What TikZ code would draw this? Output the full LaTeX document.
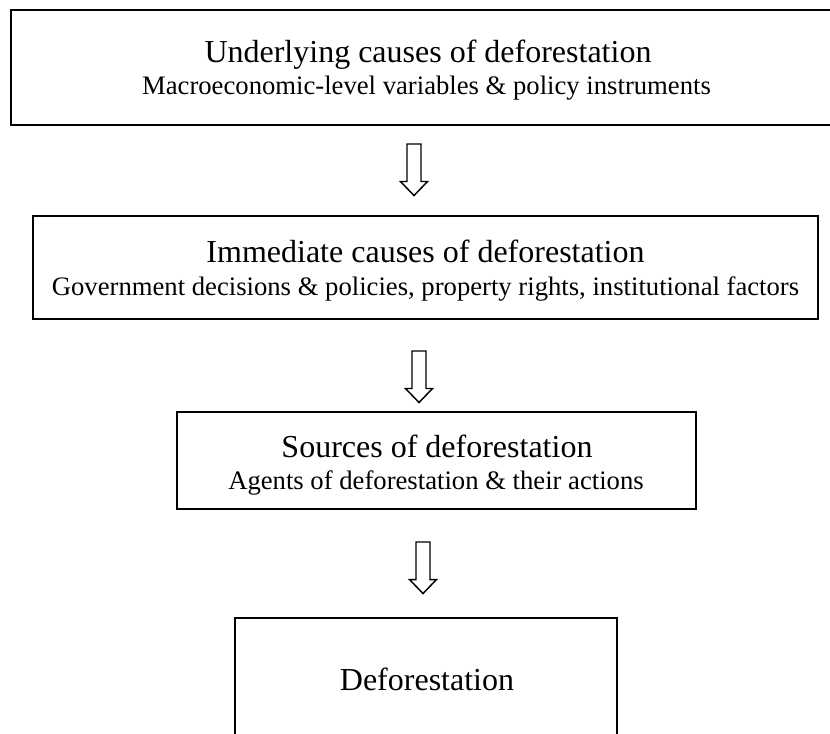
\documentclass[tikz,border=0pt]{standalone}
\usepackage{fontspec}
\setmainfont{Liberation Serif}
\begin{document}
\begin{tikzpicture}[x={(0.75pt,0)},y={(0,-0.75pt)},
  box/.style={draw,line width=1.4pt,inner sep=0pt,fill=none},
  ttl/.style={anchor=base,inner sep=0pt,font=\fontsize{24}{28}\selectfont},
  sub/.style={anchor=base,inner sep=0pt,font=\fontsize{20}{24}\selectfont},
  barrow/.style={draw,line width=1.1pt,line join=miter,fill=white}]
\useasboundingbox (0,0) rectangle (830,733);
\clip (0,0) rectangle (830,733);
% boxes
\node[box,minimum width=0.75pt*832,minimum height=0.75pt*115] (b1) at (427,67.5) {};
\node[box,minimum width=0.75pt*785,minimum height=0.75pt*103] (b2) at (425.5,267.5) {};
\node[box,minimum width=0.75pt*519,minimum height=0.75pt*97] (b3) at (436.5,460.5) {};
\node[box,minimum width=0.75pt*382,minimum height=0.75pt*162] (b4) at (426,699) {};
% texts
\node[ttl] (t1) at (428,62) {Underlying causes of deforestation};
\node[sub] (s1) at (426.5,94) {Macroeconomic-level variables \& policy instruments};
\node[ttl] (t2) at (425.5,262) {Immediate causes of deforestation};
\node[sub] (s2) at (425.5,295) {Government decisions \& policies, property rights, institutional factors};
\node[ttl] (t3) at (437,457) {Sources of deforestation};
\node[sub] (s3) at (436,489) {Agents of deforestation \& their actions};
\node[ttl] (t4) at (427,690) {Deforestation};
% block arrows
\coordinate (a1) at (414,144);
\coordinate (a2) at (419,351);
\coordinate (a3) at (423,542);
\foreach \a in {a1,a2,a3}{
  \draw[barrow] (\a) ++(-7,0) -- ++(14,0) -- ++(0,37.5) -- ++(6.5,0) -- ++(-13.5,14) -- ++(-13.5,-14) -- ++(6.5,0) -- cycle;
}
\end{tikzpicture}
\end{document}
